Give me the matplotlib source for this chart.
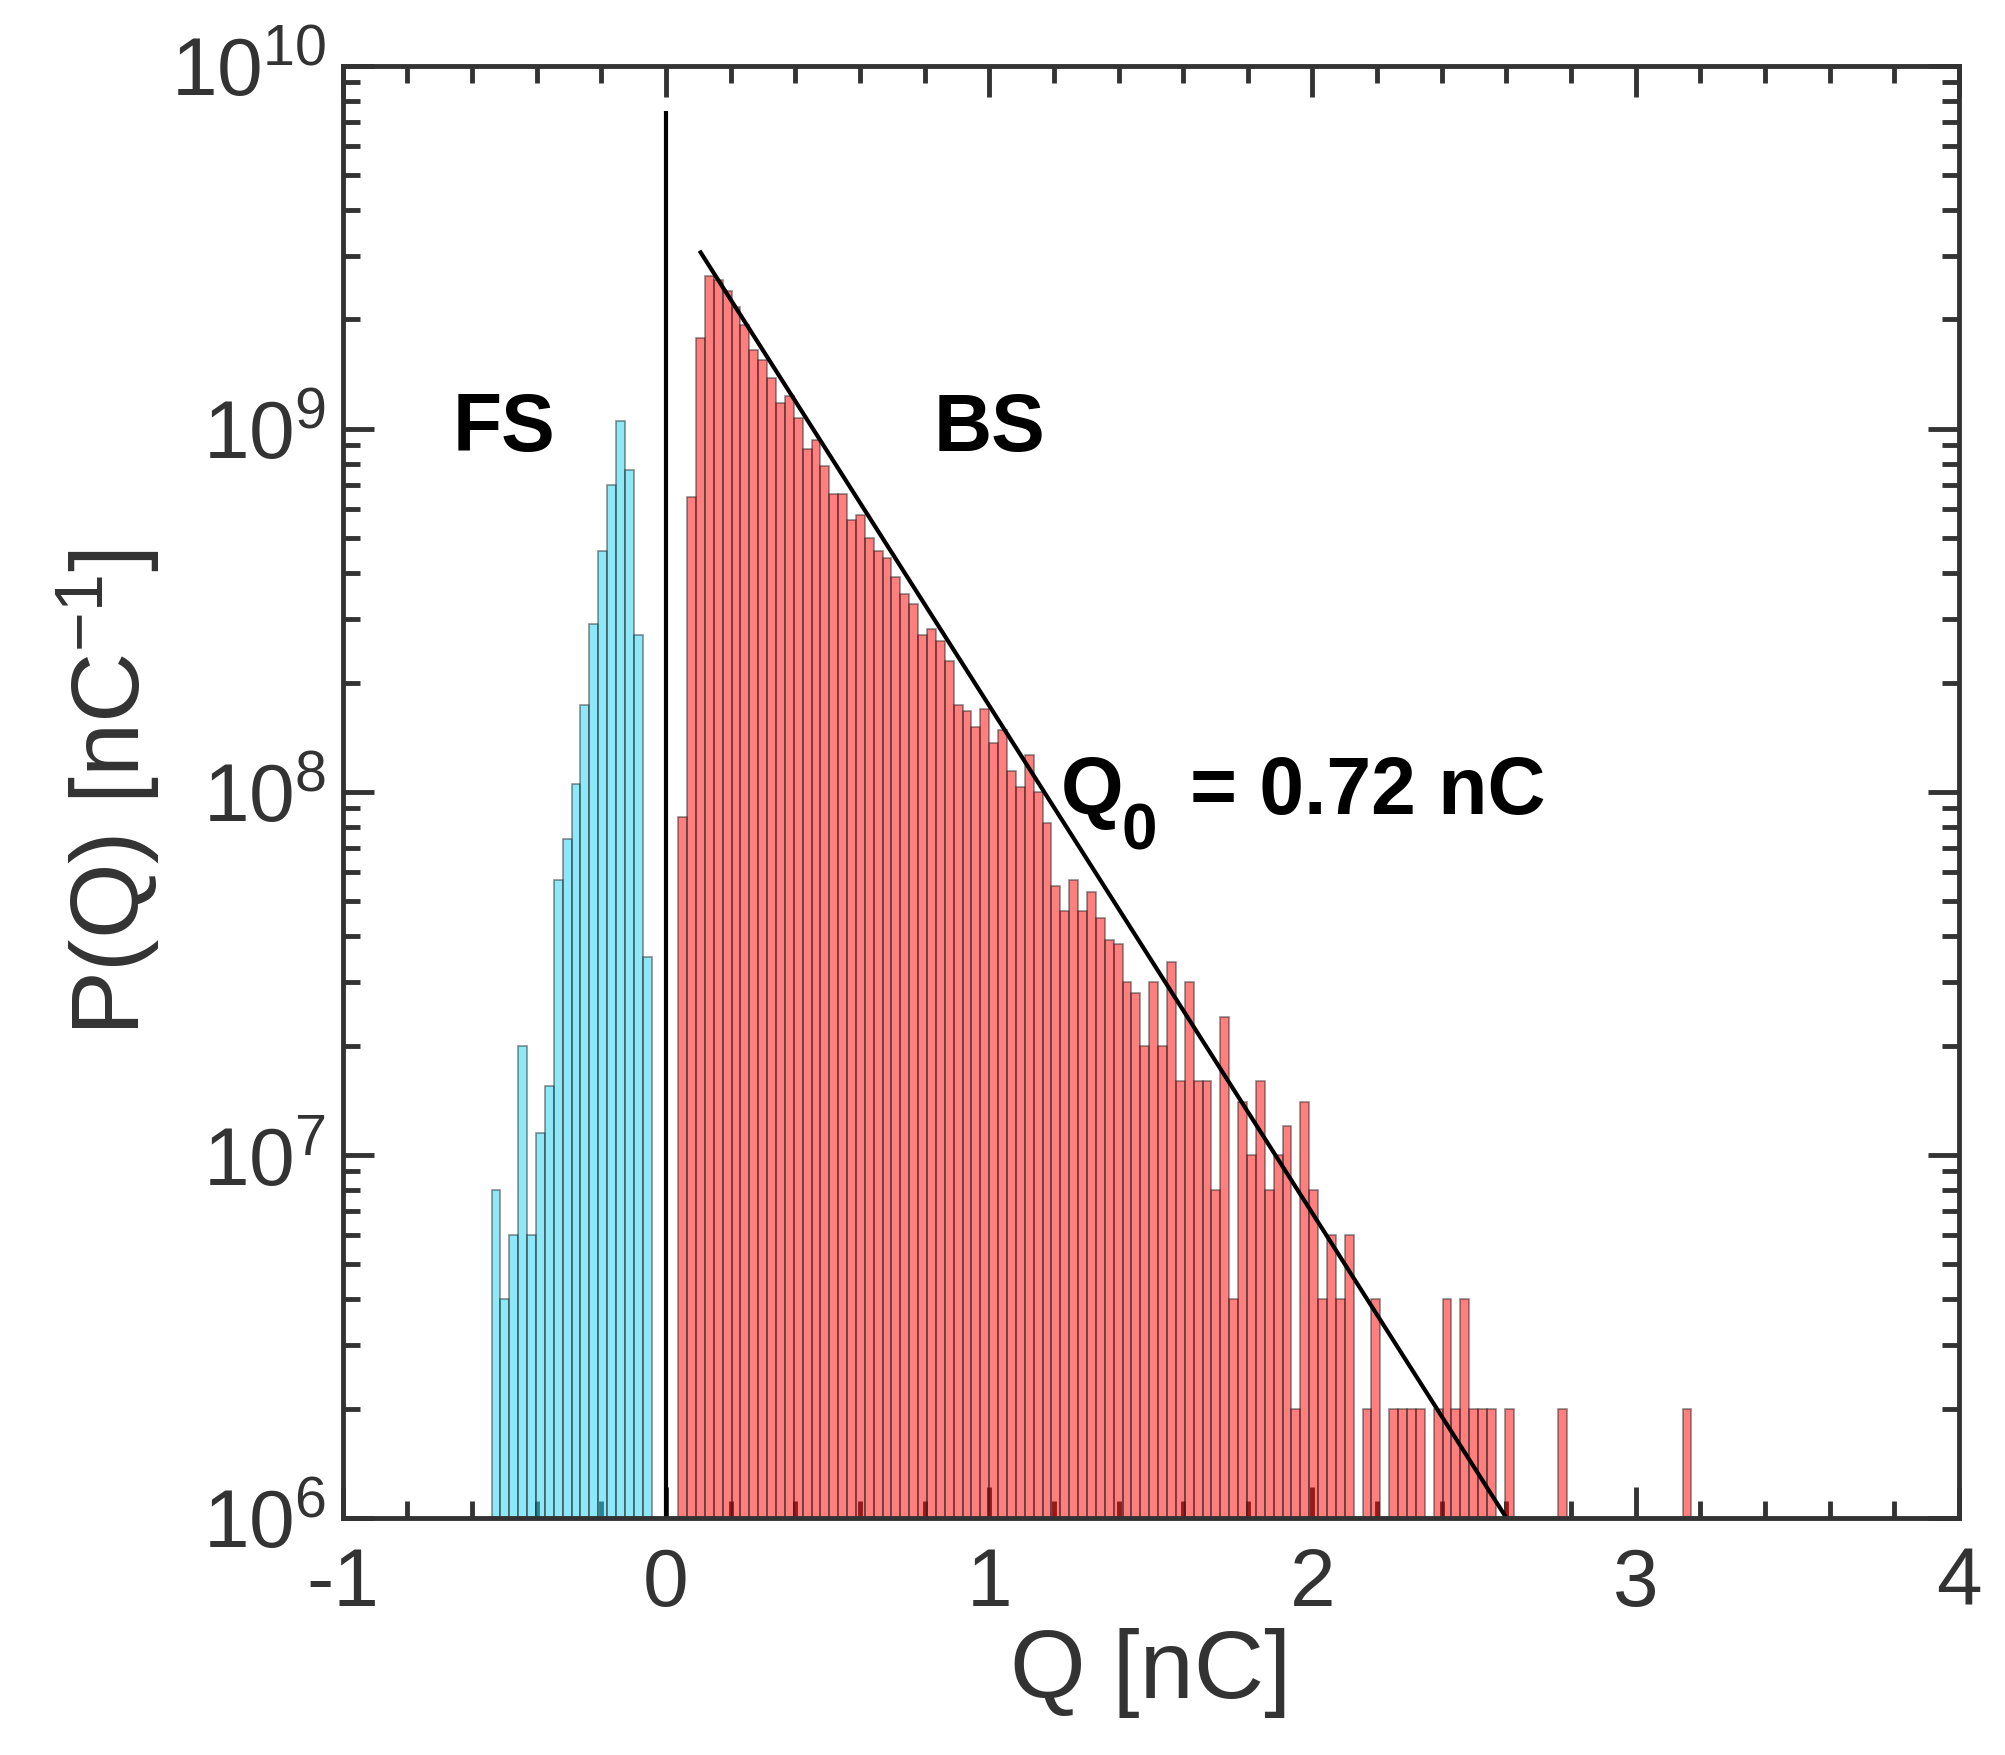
import matplotlib
matplotlib.use("Agg")
import matplotlib.pyplot as plt
import numpy as np
from matplotlib.ticker import MultipleLocator, LogLocator, NullFormatter

plt.rcParams['font.family'] = ['Liberation Sans', 'DejaVu Sans']
plt.rcParams['mathtext.fontset'] = 'custom'
plt.rcParams['mathtext.rm'] = 'Liberation Sans'
plt.rcParams['mathtext.bf'] = 'Liberation Sans:bold'
plt.rcParams['mathtext.default'] = 'regular'
plt.rcParams['axes.unicode_minus'] = False

bin_width = 0.0275
fs_start = -0.54
fs_values = [8e6, 4e6, 6e6, 2e7, 6e6, 1.15e7, 1.55e7, 5.7e7, 7.4e7, 1.05e8,
             1.74e8, 2.9e8, 4.6e8, 7.0e8, 1.05e9, 7.7e8, 2.7e8, 3.5e7]
bs_start = 0.0375
bs_values = [8.5e7, 6.5e8, 1.78e9, 2.63e9, 2.57e9, 2.40e9, 2.17e9, 1.93e9, 1.65e9, 1.55e9,
             1.38e9, 1.18e9, 1.23e9, 1.07e9, 8.8e8, 9.3e8, 7.9e8, 6.6e8, 6.6e8, 5.6e8,
             5.8e8, 5.0e8, 4.6e8, 4.4e8, 3.9e8, 3.5e8, 3.3e8, 2.7e8, 2.8e8, 2.6e8,
             2.3e8, 1.74e8, 1.67e8, 1.51e8, 1.69e8, 1.36e8, 1.48e8, 1.14e8, 1.03e8, 1.26e8,
             1.0e8, 8.2e7, 5.5e7, 4.7e7, 5.7e7, 4.7e7, 5.3e7, 4.5e7, 3.9e7, 3.8e7,
             3.0e7, 2.8e7, 2.0e7, 3.0e7, 2.0e7, 3.4e7, 1.6e7, 3.0e7, 1.6e7, 1.6e7,
             8e6, 2.4e7, 4e6, 1.4e7, 1.0e7, 1.6e7, 8e6, 1.0e7, 1.2e7, 2e6,
             1.4e7, 8e6, 4e6, 6e6, 4e6, 6e6, 0, 2e6, 4e6, 0,
             2e6, 2e6, 2e6, 2e6, 0, 2e6, 4e6, 2e6, 4e6, 2e6,
             2e6, 2e6, 0, 2e6, 0, 0, 0, 0, 0, 2e6,
             0, 0, 0, 0, 0, 0, 0, 0, 0, 0, 0, 0, 0, 2e6]
fit_q = [0.107, 2.60]
fit_p = [3.06e9, 1.0e6]
zero_line_top = 7.5e9

fig = plt.figure(figsize=(20.05, 17.56), dpi=100)
ax = fig.add_axes([0.171, 0.135, 0.806, 0.827])

def draw(start, vals, color):
    vals = np.array(vals)
    x = start + bin_width * np.arange(len(vals))
    m = vals > 0
    ax.bar(x[m], vals[m], width=bin_width, align='edge', bottom=1,
           color=color, alpha=0.5, edgecolor='#222222', linewidth=1.2, zorder=3)

draw(fs_start, fs_values, '#1ed3f2')
draw(bs_start, bs_values, '#ff0000')
ax.plot(fit_q, fit_p, color='black', lw=3, zorder=5)
ax.vlines(0, 1e6, zero_line_top, color='black', lw=3, zorder=5)

ax.set_yscale('log')
ax.set_xlim(-1, 4)
ax.set_ylim(1e6, 1e10)
ax.xaxis.set_major_locator(MultipleLocator(1))
ax.xaxis.set_minor_locator(MultipleLocator(0.2))
ax.yaxis.set_major_locator(LogLocator(base=10, numticks=20))
ax.yaxis.set_minor_locator(LogLocator(base=10, subs=np.arange(2, 10), numticks=20))
ax.yaxis.set_minor_formatter(NullFormatter())
ax.tick_params(which='both', direction='in', top=True, right=True, colors='#333333',
               labelsize=59, width=3.5)
ax.tick_params(which='major', length=22, pad=12)
ax.tick_params(axis='x', which='major', pad=20)
ax.tick_params(which='minor', length=12)
for s in ax.spines.values():
    s.set_linewidth(3.5)
    s.set_color('#333333')
    s.set_zorder(6)

ax.set_xlabel('Q [nC]', fontsize=70, color='#333333', labelpad=4)
ax.set_ylabel('P(Q) [nC$^{-1}$]', fontsize=70, color='#333333', labelpad=6)

ax.text(-0.5, 1e9, 'FS', fontsize=58, fontweight='bold', ha='center', va='center')
ax.text(1.0, 1e9, 'BS', fontsize=58, fontweight='bold', ha='center', va='center')
ax.text(1.22, 1.0e8, 'Q', fontsize=58, fontweight='bold', ha='left', va='center', zorder=7)
ax.text(1.41, 0.78e8, '0', fontsize=46, fontweight='bold', ha='left', va='center', zorder=7)
ax.text(1.62, 1.0e8, '= 0.72 nC', fontsize=58, fontweight='bold', ha='left', va='center', zorder=7)

fig.savefig('out.png', dpi=100)
